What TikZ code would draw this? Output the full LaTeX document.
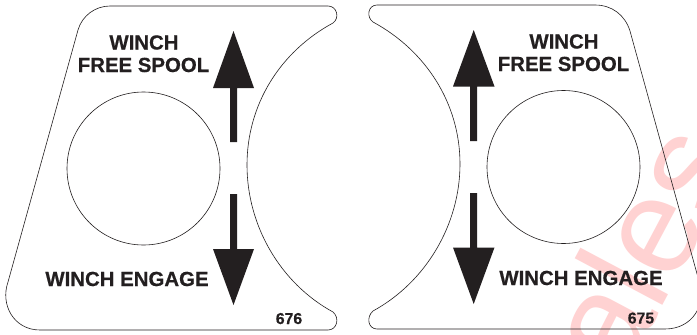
\documentclass[tikz,border=0pt]{standalone}
\usepackage{fontspec}
\setmainfont{Liberation Sans}[BoldFeatures={FakeBold=0.5}]
\definecolor{ink}{HTML}{231F20}
\definecolor{wm}{HTML}{FFD2D2}
\tikzset{
  outline/.style={draw=ink,line width=0.6pt},
  arrowfill/.style={fill=ink,draw=none},
  label/.style={text=ink,font=\bfseries\fontsize{20.4pt}{22pt}\selectfont,inner sep=0pt,anchor=base},
  code/.style={text=ink,font=\bfseries\fontsize{15.8pt}{17pt}\selectfont,inner sep=0pt,anchor=base},
  mark text/.style={text=wm,font=\fontsize{137pt}{140pt}\selectfont,inner sep=0pt,anchor=base west,rotate=62}
}
\begin{document}
\begin{tikzpicture}[x=1pt,y=-1pt]
\useasboundingbox (0,0) rectangle (697,335);
\fill[white] (0,0) rectangle (697,335);
% watermark
\begin{scope}
\clip (0,0) rectangle (697,335);
\node[mark text] (wm) at (623,381) {ales};
\end{scope}
% left plate
\draw[outline] (110,6) -- (328,6) .. controls (337,6) and (340,18) .. (333,23)
  .. controls (280,51.7) and (247,104.6) .. (247,165)
  .. controls (247,225.4) and (280,283) .. (333,312)
  .. controls (340,318) and (337,330) .. (328,330)
  -- (40,330) .. controls (14,330) and (0,305) .. (8,282)
  -- (78,30) .. controls (82,16) and (95,6) .. (110,6) -- cycle;
\draw[outline] (143.5,168.5) ellipse [x radius=76.5,y radius=76.5];
\fill[arrowfill] (233.5,31) -- (254,88) -- (237,88) -- (237,142) -- (230,142) -- (230,88) -- (213,88) -- cycle;
\fill[arrowfill] (233.5,305) -- (254,249) -- (237,249) -- (237,194) -- (230,194) -- (230,249) -- (213,249) -- cycle;
\node[label] (w1) at (144,49.5) {WINCH};
\node[label] (f1) at (143.5,72) {FREE SPOOL};
\node[label] (e1) at (127,286) {WINCH ENGAGE};
\node[code] (n1) at (289,324) {676};
% right plate (runs past the right edge of the picture)
\begin{scope}
\clip (0,0) rectangle (697,335);
\draw[outline] (595,5) -- (377,5) .. controls (368,5) and (366,17) .. (373,22)
  .. controls (426,50.7) and (460,103.6) .. (460,164)
  .. controls (460,224.4) and (426,282) .. (373,311)
  .. controls (366,317) and (368,329) .. (377,329)
  -- (665,329) .. controls (693,329) and (707,304) .. (699,281)
  -- (630,31) .. controls (625,15) and (612,5) .. (595,5) -- cycle;
\end{scope}
\draw[outline] (563.5,167) ellipse [x radius=76.5,y radius=76.5];
\fill[arrowfill] (473.7,30) -- (494.5,86.5) -- (477.2,86.5) -- (477.2,141) -- (470.2,141) -- (470.2,86.5) -- (453,86.5) -- cycle;
\fill[arrowfill] (473.7,304) -- (494.5,247.5) -- (477.2,247.5) -- (477.2,193) -- (470.2,193) -- (470.2,247.5) -- (453,247.5) -- cycle;
\node[label] (w2) at (564,48.5) {WINCH};
\node[label] (f2) at (563.5,71) {FREE SPOOL};
\node[label] (e2) at (581,285) {WINCH ENGAGE};
\node[code] (n2) at (641,323.5) {675};
\end{tikzpicture}
\end{document}
